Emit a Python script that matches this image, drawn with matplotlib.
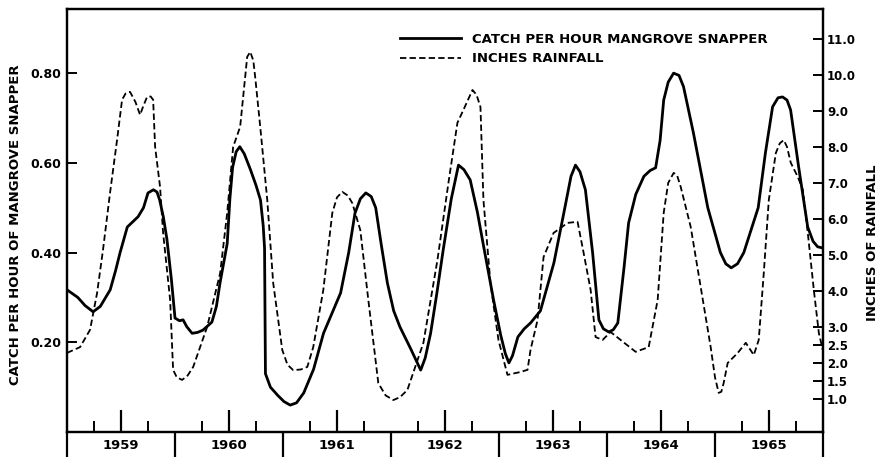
import matplotlib
matplotlib.use("Agg")
import matplotlib.pyplot as plt
from matplotlib.lines import Line2D
from matplotlib.ticker import FixedLocator, NullFormatter
import matplotlib.transforms as mtransforms

# ---------------- data ----------------
years = ["1959", "1960", "1961", "1962", "1963", "1964", "1965"]

# months since January 1959
catch_months = [0, 1.2, 2.0, 2.9, 3.7, 4.8, 5.4, 5.9, 6.7, 7.9, 8.5, 9.0, 9.6, 10.0, 10.3,
                10.7, 11.1, 11.6, 12.0, 12.5, 12.9, 13.3, 13.9, 14.5, 15.1, 16.1, 16.6,
                17.0, 17.8, 18.1, 18.4, 18.8, 19.2, 19.7, 20.4, 21.0, 21.5, 21.8, 21.95,
                22.05, 22.6, 23.4, 24.1, 24.8, 25.5, 26.3, 27.4, 28.5, 30.4, 31.3, 32.0,
                32.6, 33.2, 33.8, 34.3, 34.9, 35.6, 36.3, 37.0, 38.2, 39.3, 39.8, 40.4,
                41.1, 41.8, 42.7, 43.5, 44.1, 44.8, 45.6, 46.3, 47.4, 48.2, 48.7, 49.1,
                49.5, 50.1, 50.8, 51.5, 52.6, 54.1, 55.2, 56.0, 56.5, 57.0, 57.6, 58.4,
                59.1, 59.6, 60.2, 60.7, 61.2, 61.9, 62.4, 63.2, 64.1, 64.8, 65.4, 65.9,
                66.3, 66.8, 67.4, 68.0, 68.5, 69.6, 71.2, 72.6, 73.2, 73.8, 74.5, 75.2,
                76.8, 77.6, 78.4, 79.0, 79.5, 80.0, 80.4, 81.3, 82.3, 82.9, 83.4, 84.0]
catch_per_hour = [0.317, 0.300, 0.282, 0.268, 0.280, 0.317, 0.360, 0.400, 0.457, 0.480,
                  0.500, 0.533, 0.540, 0.535, 0.517, 0.480, 0.430, 0.340, 0.254, 0.248,
                  0.250, 0.235, 0.220, 0.222, 0.227, 0.245, 0.280, 0.332, 0.420, 0.520,
                  0.590, 0.625, 0.636, 0.620, 0.584, 0.550, 0.517, 0.460, 0.410, 0.130,
                  0.100, 0.082, 0.068, 0.060, 0.065, 0.087, 0.140, 0.220, 0.310, 0.400,
                  0.488, 0.520, 0.533, 0.525, 0.500, 0.420, 0.332, 0.270, 0.234, 0.185,
                  0.138, 0.165, 0.220, 0.310, 0.406, 0.520, 0.595, 0.585, 0.562, 0.490,
                  0.413, 0.294, 0.215, 0.175, 0.154, 0.170, 0.212, 0.230, 0.243, 0.270,
                  0.377, 0.488, 0.570, 0.595, 0.580, 0.540, 0.400, 0.250, 0.230, 0.223,
                  0.228, 0.243, 0.368, 0.466, 0.530, 0.570, 0.583, 0.589, 0.650, 0.740,
                  0.780, 0.800, 0.795, 0.770, 0.667, 0.500, 0.400, 0.375, 0.366, 0.375,
                  0.400, 0.500, 0.622, 0.725, 0.745, 0.747, 0.740, 0.718, 0.590, 0.457,
                  0.425, 0.413, 0.410]

rain_months = [0, 1.45, 2.56, 3.34, 4.0, 4.78, 5.56, 6.12, 6.5, 7.0, 7.6, 8.12, 8.5, 8.9,
               9.3, 9.57, 9.79, 10.34, 10.68, 11.46, 11.79, 12.2, 12.79, 13.4, 14.02,
               15.57, 17.02, 17.8, 18.46, 19.24, 20.02, 20.36, 20.7, 20.91, 21.47, 22.25,
               22.91, 23.92, 24.5, 25.14, 26.0, 26.7, 27.36, 28.48, 29.48, 30.0, 30.59,
               31.2, 31.7, 32.59, 33.48, 34.59, 35.4, 36.26, 37.0, 37.82, 39.6, 41.16,
               42.38, 43.38, 44.05, 45.05, 45.5, 45.94, 46.27, 47.05, 47.94, 48.94, 50.39,
               51.17, 51.5, 52.28, 52.95, 54.06, 55.62, 56.73, 57.4, 58.18, 58.73, 59.51,
               60.4, 61.51, 63.18, 64.63, 65.63, 66.3, 66.8, 67.41, 67.8, 68.19, 69.3,
               70.41, 71.52, 72.0, 72.41, 72.7, 72.96, 73.41, 74.53, 75.42, 76.31, 76.86,
               77.42, 77.98, 78.76, 79.2, 79.64, 80.0, 80.42, 81.2, 81.76, 82.31, 82.98,
               83.54, 83.98]
rainfall_inches = [2.28, 2.44, 2.92, 3.94, 5.14, 6.72, 8.19, 9.31, 9.48, 9.53, 9.25, 8.89,
                   9.15, 9.39, 9.40, 9.31, 8.0, 6.89, 5.61, 3.75, 1.81, 1.60, 1.53, 1.65,
                   1.89, 3.0, 4.5, 6.17, 8.0, 8.56, 10.5, 10.64, 10.4, 9.94, 8.56, 6.53,
                   4.22, 2.36, 1.95, 1.80, 1.82, 1.89, 2.44, 4.03, 6.17, 6.6, 6.75, 6.65,
                   6.44, 5.69, 3.75, 1.44, 1.10, 0.97, 1.05, 1.25, 2.56, 4.86, 7.0, 8.67,
                   9.03, 9.58, 9.45, 9.11, 6.53, 4.22, 2.64, 1.67, 1.75, 1.81, 2.36, 3.19,
                   4.94, 5.61, 5.89, 5.92, 5.06, 4.03, 2.72, 2.64, 2.86, 2.64, 2.31, 2.44,
                   3.75, 6.17, 7.0, 7.28, 7.2, 6.89, 5.78, 4.11, 2.44, 1.6, 1.17, 1.20,
                   1.44, 2.0, 2.28, 2.56, 2.22, 2.64, 4.5, 6.53, 7.83, 8.1, 8.19, 8.0, 7.56,
                   7.17, 6.81, 5.61, 4.03, 2.83, 2.36]

catch_ticks = [0.20, 0.40, 0.60, 0.80]
catch_tick_labels = ["0.20", "0.40", "0.60", "0.80"]
rain_ticks = [1.0, 1.5, 2.0, 2.5, 3.0, 4.0, 5.0, 6.0, 7.0, 8.0, 9.0, 10.0, 11.0]
rain_tick_labels = ["1.0", "1.5", "2.0", "2.5", "3.0", "4.0", "5.0", "6.0", "7.0",
                    "8.0", "9.0", "10.0", "11.0"]

# ---------------- figure ----------------
W, H = 882, 457
fig = plt.figure(figsize=(W / 100, H / 100), dpi=100)
fig.patch.set_facecolor("white")
ax = fig.add_axes([67 / W, (H - 432) / H, (823 - 67) / W, (432 - 9) / H])
ax2 = ax.twinx()

lw_axis = 1.6
bold = dict(fontweight="bold", color="black", family="DejaVu Sans")
dash = (0, (3.5, 1.8))

ax.plot(catch_months, catch_per_hour, color="black", lw=2.0, solid_joinstyle="round",
        solid_capstyle="round")
ax2.plot(rain_months, rainfall_inches, color="black", lw=1.3, linestyle=dash)

ax.set_xlim(0, 84)
ax.set_ylim(0, 0.943)
ax2.set_ylim(0.083, 11.83)

for a in (ax, ax2):
    for s in a.spines.values():
        s.set_linewidth(lw_axis)

# x ticks: quarterly, taller at mid-year, pointing up into the plot
ax.xaxis.set_major_locator(FixedLocator([6 + 12 * k for k in range(7)]))
ax.xaxis.set_minor_locator(FixedLocator([m for k in range(7) for m in (3 + 12 * k, 9 + 12 * k)]))
ax.xaxis.set_major_formatter(NullFormatter())
ax.tick_params(axis="x", which="major", direction="in", length=16, width=1.6, bottom=True, top=False)
ax.tick_params(axis="x", which="minor", direction="in", length=8, width=1.4, bottom=True, top=False)

ax.set_yticks(catch_ticks)
ax.set_yticklabels(catch_tick_labels, **bold, fontsize=9)
ax.tick_params(axis="y", direction="in", length=7, width=1.4, pad=4)
ax2.set_yticks(rain_ticks)
ax2.set_yticklabels(rain_tick_labels, **bold, fontsize=8.5)
ax2.tick_params(axis="y", direction="in", length=7, width=1.4, pad=3)

ax.set_ylabel("CATCH PER HOUR OF MANGROVE SNAPPER", fontsize=9.5, **bold)
ax.yaxis.set_label_coords(-45 / 756, 0.49)
ax2.set_ylabel("INCHES OF RAINFALL", fontsize=9.5, rotation=90, **bold)
ax2.yaxis.set_label_coords(1 + 43 / 756, 0.447)

# year strip beneath the axis
trans = mtransforms.blended_transform_factory(ax.transData, ax.transAxes)
strip = -25 / (432 - 9)
for k in range(len(years) + 1):
    ax.plot([12 * k, 12 * k], [0, strip], transform=trans, color="black",
            lw=lw_axis, clip_on=False, solid_capstyle="butt")
for k, yr in enumerate(years):
    ax.text(12 * k + 6, strip / 2 - 0.003, yr, transform=trans, ha="center", va="center",
            fontsize=9.5, **bold)

# legend
handles = [Line2D([], [], color="black", lw=2.0),
           Line2D([], [], color="black", lw=1.3, linestyle=dash)]
labels = ["CATCH PER HOUR MANGROVE SNAPPER", "INCHES RAINFALL"]
leg = ax2.legend(handles, labels, loc="upper left",
                 bbox_to_anchor=(388 / W, 1 - 21 / H), bbox_transform=fig.transFigure,
                 frameon=False, handlelength=4.6, handletextpad=0.9, labelspacing=0.5,
                 prop=dict(weight="bold", size=9.5, family="DejaVu Sans"))

fig.savefig("out.png", dpi=100, facecolor="white")
